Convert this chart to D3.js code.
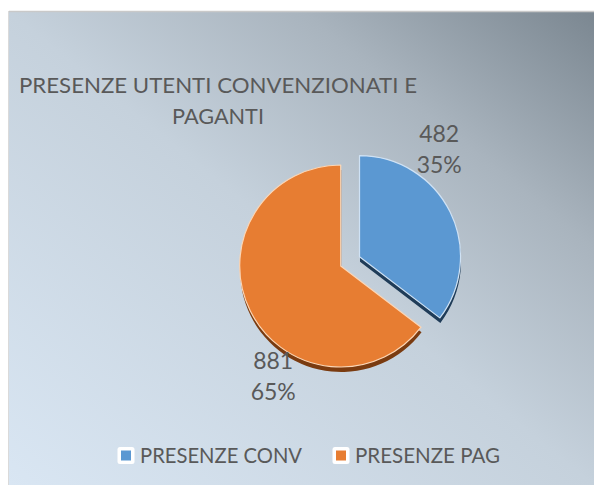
<!DOCTYPE html>
<html>
<head>
<meta charset="utf-8">
<script src="https://cdn.jsdelivr.net/npm/d3@7"></script>
<style>
  html, body { margin: 0; padding: 0; background: #ffffff; }
  svg { display: block; }
  text { font-family: "Lato", "Open Sans", sans-serif; fill: #595959; }
</style>
</head>
<body>
<svg id="chart" width="594" height="485"></svg>
<script>
// Data
const categories = ["PRESENZE CONV", "PRESENZE PAG"];
const values = [482, 881];
const titleLines = ["PRESENZE UTENTI CONVENZIONATI E", "PAGANTI"];

// Styling
const fillColors = ["#5b98d2", "#e77d32"];
const sideColors = ["#1f3c58", "#7a3b10"];
const edgeColors = ["#cfe2f5", "#fbd6b6"];

const W = 594, H = 485;
const svg = d3.select("#chart");

// Chart area background
const defs = svg.append("defs");
const grad = defs.append("linearGradient")
  .attr("id", "bg").attr("x1", 0).attr("y1", 1).attr("x2", 1).attr("y2", 0);
[[0, "#d9e6f3"], [0.5, "#c5d1dc"], [0.75, "#a9b4be"], [1, "#7b8791"]]
  .forEach(([o, c]) => grad.append("stop").attr("offset", o).attr("stop-color", c));

svg.append("rect").attr("x", 9).attr("y", 12).attr("width", W - 9).attr("height", H - 12)
  .attr("fill", "url(#bg)");
svg.append("line").attr("x1", 9).attr("x2", W).attr("y1", 11.5).attr("y2", 11.5)
  .attr("stroke", "#c9c9c9").attr("stroke-width", 1.5);
svg.append("line").attr("x1", 8.5).attr("x2", 8.5).attr("y1", 11).attr("y2", H)
  .attr("stroke", "#dadada").attr("stroke-width", 1);

// Title
const title = svg.append("text").attr("text-anchor", "middle").style("font-size", "22px");
title.append("tspan").attr("x", 218).attr("y", 93).attr("textLength", 398)
  .attr("lengthAdjust", "spacingAndGlyphs").text(titleLines[0]);
title.append("tspan").attr("x", 218).attr("y", 124).attr("textLength", 92)
  .attr("lengthAdjust", "spacingAndGlyphs").text(titleLines[1]);

// Pie
const cx = 340.7, cy = 266, R = 101;
const depth = 5;
const explode = [21, 0];
const total = d3.sum(values);
const pct = d3.format(".0%");

const pie = d3.pie().sort(null).value(d => d)(values);
const arc = d3.arc().innerRadius(0).outerRadius(R);

function offset(d, i) {
  const a = (d.startAngle + d.endAngle) / 2;
  return [explode[i] * Math.sin(a), -explode[i] * Math.cos(a)];
}

const g = svg.append("g").attr("transform", `translate(${cx},${cy})`);

// Extruded side of each slice
g.selectAll("path.side").data(pie).join("path")
  .attr("class", "side")
  .attr("d", arc)
  .attr("fill", (d, i) => sideColors[i])
  .attr("transform", (d, i) => {
    const [dx, dy] = offset(d, i);
    return `translate(${dx + 0.5},${dy + depth})`;
  });

// Top faces
g.selectAll("path.top").data(pie).join("path")
  .attr("class", "top")
  .attr("d", arc)
  .attr("fill", (d, i) => fillColors[i])
  .attr("stroke", (d, i) => edgeColors[i])
  .attr("stroke-width", 1.2)
  .attr("stroke-linejoin", "round")
  .attr("transform", (d, i) => {
    const [dx, dy] = offset(d, i);
    return `translate(${dx},${dy})`;
  });

// Data labels (value and share), placed relative to the pie centre
const labelOffsets = [[98.5, -124], [-67.5, 103]];
const labels = svg.append("g").style("font-size", "23px").attr("text-anchor", "middle");
pie.forEach((d, i) => {
  const [lx, ly] = labelOffsets[i];
  const t = labels.append("text");
  t.append("tspan").attr("x", cx + lx).attr("y", cy + ly).text(values[i]);
  t.append("tspan").attr("x", cx + lx).attr("y", cy + ly + 31).text(pct(values[i] / total));
});

// Legend
const legendX = [117.5, 332.5];
const legendW = [162, 145];
const legend = svg.append("g");
categories.forEach((c, i) => {
  const x = legendX[i], y = 447;
  legend.append("rect").attr("x", x).attr("y", y).attr("width", 17).attr("height", 17)
    .attr("rx", 2.5).attr("fill", "#ffffff");
  legend.append("rect").attr("x", x + 3.5).attr("y", y + 3.5).attr("width", 10).attr("height", 10)
    .attr("fill", fillColors[i]);
  legend.append("text").attr("x", x + 22.5).attr("y", 462.7)
    .attr("textLength", legendW[i]).attr("lengthAdjust", "spacingAndGlyphs")
    .style("font-size", "21px").text(c);
});
</script>
</body>
</html>
